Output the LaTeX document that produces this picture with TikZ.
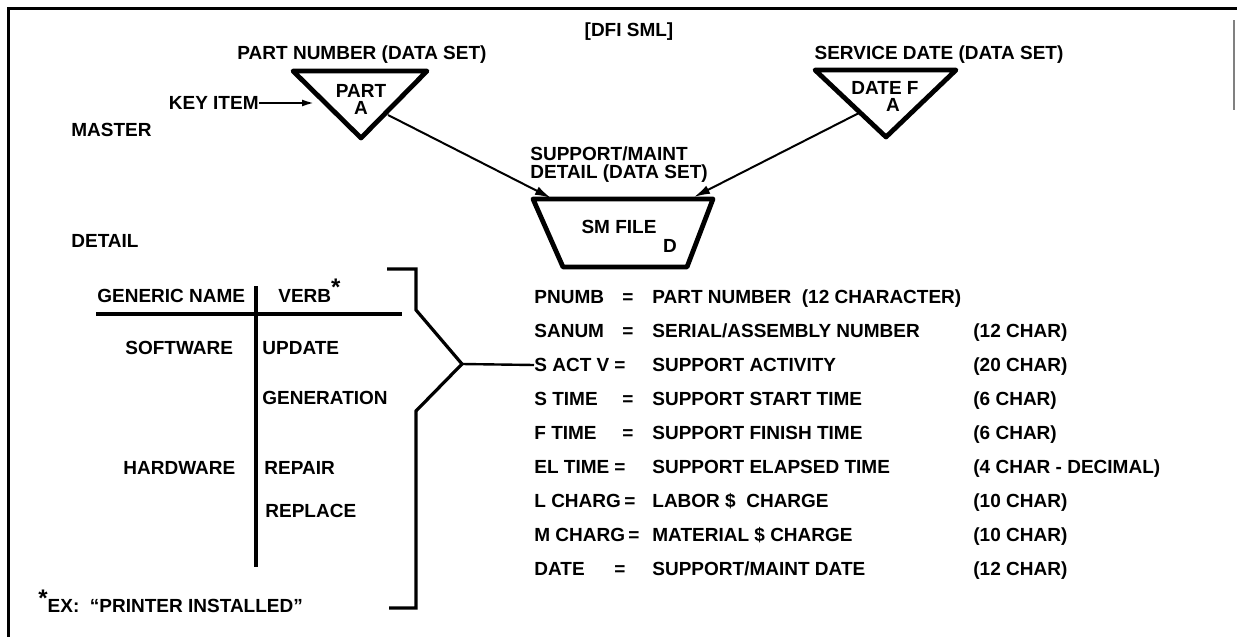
\documentclass[tikz,border=0pt]{standalone}
\usepackage{fontspec}
\setmainfont{Liberation Sans}
\usetikzlibrary{arrows.meta}

\begin{document}
\begin{tikzpicture}[x=0.5pt, y=-0.5pt,
        txt/.style={font=\bfseries\fontsize{9.5}{11}\selectfont, inner sep=0pt, text height=6.8pt, text depth=0pt},
        file/.style={line width=2.4pt, line join=round},
        link/.style={line width=1pt, -{Latex[length=8pt,width=4.5pt]}},
        rule/.style={line width=1.6pt}]
        \useasboundingbox (0,0) rectangle (1237,637);
        \draw [line width=1.5pt] (8,637) -- (8,8) -- (1237,8);
        \draw [line width=0.6pt, gray] (1234,20) -- (1234,110);

        \node [txt] (title) at (629,30) {[DFI SML]};
        \node [txt, anchor=west] (master) at (71,130) {MASTER};
        \node [txt, anchor=west] (detail) at (71,241) {DETAIL};

        % master data sets
        \node [txt] (partlbl) at (362,53) {PART NUMBER (DATA SET)};
        \draw [file] (293,71) -- (427,71) -- (361,138) -- cycle;
        \node [txt] (part) at (361,91) {PART};
        \node [txt] (parta) at (361,108) {A};
        \coordinate (partout) at (388,115);
        \node [txt, anchor=east] (key) at (259,103) {KEY ITEM};
        \coordinate (keyend) at (314,103);
        \draw [line width=1pt, -{Latex[length=6pt,width=3.5pt]}] (key.east) -- (keyend);

        \node [txt] (datelbl) at (939,53) {SERVICE DATE (DATA SET)};
        \draw [file] (815,70) -- (956,70) -- (886,137) -- cycle;
        \node [txt] (date) at (885,88) {DATE F};
        \node [txt] (datea) at (893,105) {A};
        \coordinate (dateout) at (859,113);

        % detail data set
        \node [txt, anchor=west] (smlbl1) at (530,154) {SUPPORT/MAINT};
        \node [txt, anchor=west] (smlbl2) at (530,172) {DETAIL (DATA SET)};
        \draw [file] (533,199) -- (713,199) -- (687,267) -- (563,267) -- cycle;
        \node [txt] (sm) at (619,227) {SM FILE};
        \node [txt] (smd) at (670,246) {D};
        \coordinate (smin1) at (551,198);
        \coordinate (smin2) at (694,197);
        \draw [link] (partout) -- (smin1);
        \draw [link] (dateout) -- (smin2);

        % verb table
        \node [txt, anchor=west] (gen) at (97,296) {GENERIC NAME};
        \node [txt, anchor=west] (verb) at (278,296) {VERB\raisebox{0.7ex}{\large *}};
        \draw [rule] (96,314) -- (402,314);
        \draw [rule] (256,286) -- (256,567);
        \node [txt, anchor=west] (soft) at (125,348) {SOFTWARE};
        \node [txt, anchor=west] (upd) at (262,348) {UPDATE};
        \node [txt, anchor=west] (gener) at (262,398) {GENERATION};
        \node [txt, anchor=west] (hard) at (123,468) {HARDWARE};
        \node [txt, anchor=west] (rep) at (264,468) {REPAIR};
        \node [txt, anchor=west] (repl) at (265,511) {REPLACE};
        \node [txt, anchor=west] (ex) at (38,606) {\raisebox{0.6ex}{\large *}EX:\ \ ``PRINTER INSTALLED''};

        \coordinate (apex) at (462,364);
        \draw [rule, line join=miter] (387,269) -- (416,269) -- (416,310) -- (apex) -- (416,411) -- (416,608) -- (389,608);

        % item list
        \node [txt, anchor=west] (n1) at (534,297) {PNUMB};
        \node [txt] (e1) at (628,297) {=};
        \node [txt, anchor=west] (d1) at (652,297) {PART NUMBER\ \ (12 CHARACTER)};
        \foreach \nm/\ex/\ds/\ln [count=\i from 2] in {
                SANUM/628/{SERIAL/ASSEMBLY NUMBER}/{(12 CHAR)},
                S ACT V/620/SUPPORT ACTIVITY/{(20 CHAR)},
                S TIME/628/SUPPORT START TIME/{(6 CHAR)},
                F TIME/628/SUPPORT FINISH TIME/{(6 CHAR)},
                EL TIME/620/SUPPORT ELAPSED TIME/{(4 CHAR - DECIMAL)},
                L CHARG/630/{LABOR \$\ \ CHARGE}/{(10 CHAR)},
                M CHARG/634/{MATERIAL \$ CHARGE}/{(10 CHAR)},
                DATE/620/{SUPPORT/MAINT DATE}/{(12 CHAR)}}{
            \node [txt, anchor=west] (n\i) at (534,263+34*\i) {\nm};
            \node [txt] (e\i) at (\ex,263+34*\i) {=};
            \node [txt, anchor=west] (d\i) at (652,263+34*\i) {\ds};
            \node [txt, anchor=west] (l\i) at (973,263+34*\i) {\ln};
        }
        \draw [line width=1.2pt] (apex) -- (n3.west);
    \end{tikzpicture}
\end{document}
